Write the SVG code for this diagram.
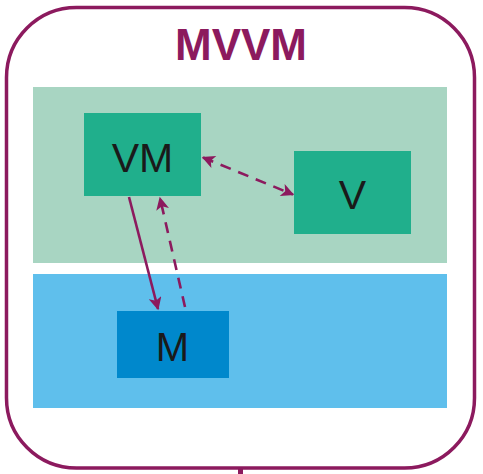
<svg xmlns="http://www.w3.org/2000/svg" width="483" height="474" viewBox="0 0 483 474">
<defs>
<style>
.lbl{font-family:"Liberation Sans",Arial,sans-serif;fill:#1a1a1a;text-anchor:middle}
.con{stroke:#8C1A5E;stroke-width:2.6;fill:none}
.dash{stroke-dasharray:11 8}
</style>
<marker id="ah" viewBox="0 0 10 10" refX="9" refY="5" markerWidth="5.5" markerHeight="5" orient="auto-start-reverse" markerUnits="strokeWidth">
<path d="M0,0 L10,5 L0,10 L2.5,5 z" fill="#8C1A5E"/>
</marker>
</defs>
<rect x="6.5" y="7.5" width="468" height="460.5" rx="70" ry="70" fill="#fff" stroke="#8C1A5E" stroke-width="3.5"/>
<rect x="238" y="468" width="5" height="6" fill="#8C1A5E"/>
<text x="241" y="60" font-family="'Liberation Sans',Arial,sans-serif" font-weight="bold" font-size="44" fill="#8C1A5E" text-anchor="middle">MVVM</text>
<rect id="viewLayer" x="33" y="87" width="414" height="176" fill="#A8D5C2"/>
<rect id="modelLayer" x="33" y="274" width="414" height="134" fill="#5FBFEC"/>
<g id="VM">
<rect x="84" y="113" width="117" height="83" fill="#20AF8C"/>
<text class="lbl" x="142.5" y="171.5" font-size="41">VM</text>
</g>
<g id="V">
<rect x="294" y="151" width="117" height="83" fill="#20AF8C"/>
<text class="lbl" x="352.5" y="209" font-size="41">V</text>
</g>
<g id="M">
<rect x="117" y="311" width="112" height="67" fill="#0088CC"/>
<text class="lbl" x="172.5" y="360.5" font-size="40">M</text>
</g>
<g id="connectors">
<line class="con dash" x1="203" y1="157.5" x2="293" y2="194.5" marker-start="url(#ah)" marker-end="url(#ah)"/>
<line class="con" x1="129" y1="197" x2="158" y2="309" marker-end="url(#ah)"/>
<line class="con dash" x1="185" y1="307" x2="160" y2="198" marker-end="url(#ah)"/>
</g>
</svg>
